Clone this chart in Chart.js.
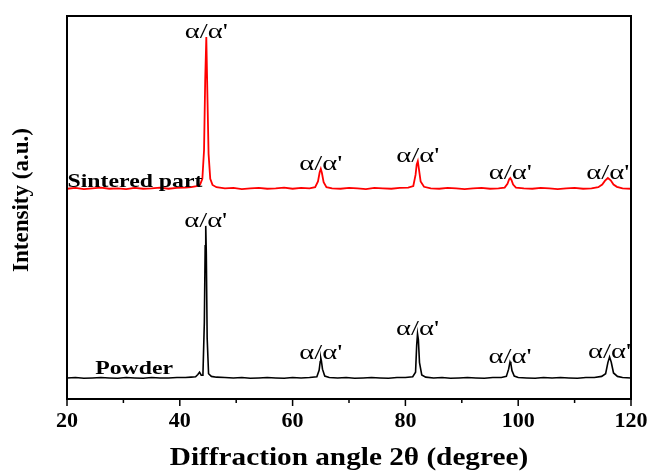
<!DOCTYPE html>
<html>
<head>
<meta charset="utf-8">
<script src="https://cdn.jsdelivr.net/npm/chart.js@4"></script>
<style>
  html, body { margin: 0; padding: 0; background: #fff; }
  #wrap { width: 651px; height: 475px; }
</style>
</head>
<body>
<div id="wrap"><canvas id="xrdChart"></canvas></div>
<script>
// 2-theta positions and intensities (arbitrary units, offset stacked)
const sinteredAngle = [20,21.5,23,24.5,26,27.5,29,30.5,32,33.5,
    35,36.5,38,39.5,41,42,43,43.6,44.0,44.3,
    44.5,44.7,44.9,45.1,45.4,45.8,46.5,48,49.5,51,
    52.5,54,55.5,57,58.5,60,61.5,63,64.0,64.5,
    64.8,65.0,65.2,65.5,66.0,67,68.5,70,71.5,73,
    74.5,76,77.5,79,80.5,81.4,81.8,82.0,82.2,82.4,
    82.7,83.3,84.5,86,87.5,89,90.5,92,93.5,95,
    96.5,97.6,98.1,98.4,98.6,98.8,99.1,99.6,101,102.5,
    104,105.5,107,108.5,110,111.5,113,114.2,114.9,115.4,
    115.9,116.4,116.9,117.5,118.5,120];
const sinteredIntensity = [549,551,548,550,552,549,550,548,551,549,
    550,552,549,551,552,553,556,560,575,650,
    830,945,790,640,575,559,553,550,551,548,
    550,551,549,550,552,549,551,550,553,568,
    592,601,590,566,553,550,549,551,550,548,
    551,550,549,551,552,556,585,612,621,600,
    568,554,550,549,551,550,548,550,551,549,
    550,552,562,574,577,572,560,552,550,549,
    551,550,548,550,551,549,550,553,560,570,
    577,571,560,554,550,549];

const powderAngle = [20,21.5,23,24.5,26,27.5,29,30.5,32,33.5,
    35,36.5,38,39.5,41,42,42.8,43.2,43.5,43.8,
    44.1,44.35,44.5,44.6,44.7,44.85,45.1,45.6,46.5,48,
    49.5,51,52.5,54,55.5,57,58.5,60,61.5,63,
    64.3,64.7,64.9,65.0,65.1,65.3,65.7,66.5,68,69.5,
    71,72.5,74,75.5,77,78.5,80,81.3,81.8,82.0,
    82.15,82.3,82.5,82.9,83.6,85,86.5,88,89.5,91,
    92.5,94,95.5,97,97.9,98.3,98.55,98.7,98.9,99.3,
    100,101.5,103,104.5,106,107.5,109,110.5,112,113.5,
    114.8,115.5,115.9,116.2,116.5,116.9,117.6,118.5,120];
const powderIntensity = [55,56,54,55,56,55,54,56,55,54,
    56,55,55,56,56,57,58,64,70,62,
    62,200,400,452,380,160,66,59,57,56,
    55,56,54,55,56,55,54,56,55,56,
    58,75,98,107,100,78,60,56,55,56,
    54,55,56,55,54,56,56,58,70,140,
    170,155,95,63,57,55,56,54,55,56,
    55,54,56,56,59,78,97,92,74,60,
    56,55,54,56,55,56,55,54,56,56,
    59,66,95,110,96,68,59,56,55];

// peak annotations
const peakLabel = "α/α'";
const sinteredPeakAngle = [44.7, 65.0, 82.2, 98.6, 115.9];
const sinteredPeakValue = [945, 601, 621, 577, 577];
const powderPeakAngle = [44.6, 65.0, 82.15, 98.55, 116.2];
const powderPeakValue = [452, 107, 170, 97, 110];

// curve names and where they sit
const seriesNames = ['Sintered part', 'Powder'];
const nameAngle = [20.1, 25.0];
const nameValue = [554, 65];

const majorTicks = [20, 40, 60, 80, 100, 120];
const xTitle = 'Diffraction angle 2θ (degree)';
const yTitle = 'Intensity (a.u.)';

const toPoints = (xs, ys) => xs.map((x, i) => ({ x: x, y: ys[i] }));

// draw text stretched horizontally, like the original figure's lettering
function wideText(ctx, text, x, y, font, sx, align, baseline) {
    ctx.save();
    ctx.font = font;
    ctx.fillStyle = '#000';
    ctx.textAlign = align;
    ctx.textBaseline = baseline;
    ctx.translate(x, y);
    ctx.scale(sx, 1);
    ctx.fillText(text, 0, 0);
    ctx.restore();
}

const framePlugin = {
    id: 'frame',
    afterDraw(chart) {
        const ctx = chart.ctx;
        const { left, right, top, bottom } = chart.chartArea;
        const xs = chart.scales.x;
        const ys = chart.scales.y;

        // box around the plot
        ctx.save();
        ctx.strokeStyle = '#000';
        ctx.lineWidth = 2;
        ctx.strokeRect(left, top, right - left, bottom - top);

        // ticks below the bottom axis, short ones for the odd tens
        ctx.lineWidth = 1.5;
        xs.ticks.forEach(t => {
            const px = xs.getPixelForValue(t.value);
            const major = majorTicks.includes(t.value);
            ctx.beginPath();
            ctx.moveTo(px, bottom);
            ctx.lineTo(px, bottom + (major ? 7 : 4));
            ctx.stroke();
            if (major) {
                wideText(ctx, String(t.value), px, bottom + 23, 'bold 21px "Liberation Serif"', 1.05, 'center', 'middle');
            }
        });
        ctx.restore();

        // axis titles
        wideText(ctx, xTitle, (left + right) / 2, 459, 'bold 25px "Liberation Serif"', 1.17, 'center', 'middle');
        ctx.save();
        ctx.translate(22, 200);
        ctx.rotate(-Math.PI / 2);
        wideText(ctx, yTitle, 0, 0, 'bold 23px "Liberation Serif"', 1, 'center', 'middle');
        ctx.restore();

        // curve names
        seriesNames.forEach((name, i) => {
            wideText(ctx, name, xs.getPixelForValue(nameAngle[i]), ys.getPixelForValue(nameValue[i]),
                'bold 19px "Liberation Serif"', 1.25, 'left', 'alphabetic');
        });

        // peak labels sitting on top of each reflection
        const labelPeaks = (angles, values) => angles.forEach((a, i) => {
            wideText(ctx, peakLabel, xs.getPixelForValue(a), ys.getPixelForValue(values[i]) + 1,
                '22px "Liberation Serif"', 1.3, 'center', 'alphabetic');
        });
        labelPeaks(sinteredPeakAngle, sinteredPeakValue);
        labelPeaks(powderPeakAngle, powderPeakValue);
    }
};

const xrdCtx = document.getElementById('xrdChart').getContext('2d');
const xrdChart = new Chart(xrdCtx, {
    type: 'line',
    data: {
        datasets: [
            {
                label: seriesNames[0],
                data: toPoints(sinteredAngle, sinteredIntensity),
                borderColor: '#ff0000',
                borderWidth: 1.8,
                pointRadius: 0,
                tension: 0,
            },
            {
                label: seriesNames[1],
                data: toPoints(powderAngle, powderIntensity),
                borderColor: '#000000',
                borderWidth: 1.6,
                pointRadius: 0,
                tension: 0,
            },
        ],
    },
    options: {
        responsive: true,
        maintainAspectRatio: false,
        animation: false,
        layout: { padding: { top: 16, right: 20, left: 0, bottom: 0 } },
        plugins: {
            legend: { display: false },
            tooltip: { enabled: false },
        },
        scales: {
            x: {
                type: 'linear',
                min: 20,
                max: 120,
                ticks: { stepSize: 10, display: false },
                grid: { display: false },
                border: { display: false },
                afterFit: s => { s.height = 76; },
            },
            y: {
                min: 0,
                max: 1000,
                ticks: { display: false },
                grid: { display: false },
                border: { display: false },
                afterFit: s => { s.width = 67; },
            },
        },
    },
    plugins: [framePlugin],
});
</script>
</body>
</html>
